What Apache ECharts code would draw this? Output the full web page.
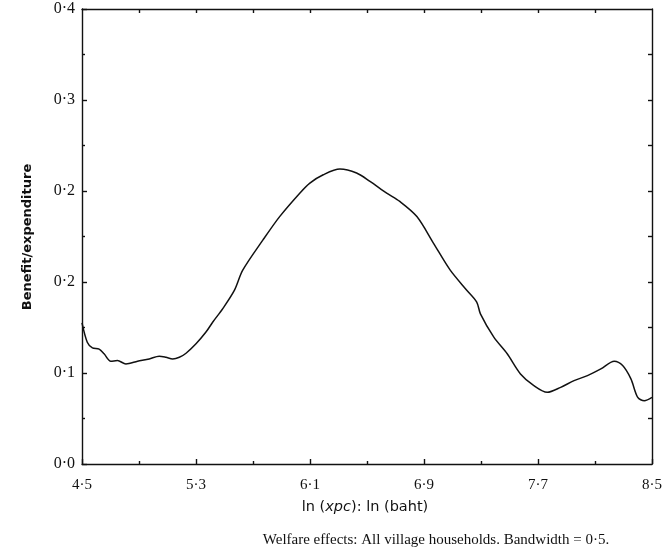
<!DOCTYPE html>
<html>
<head>
<meta charset="utf-8">
<script src="https://cdn.jsdelivr.net/npm/echarts@6/dist/echarts.min.js"></script>
<style>html,body{margin:0;padding:0;background:#fff}#c{width:669px;height:556px}</style>
</head>
<body>
<div id="c"></div>
<script>
// Data (x: ln(xpc), y: benefit/expenditure)
const xValues = [4.5, 4.537, 4.573, 4.62, 4.655, 4.702, 4.749, 4.808, 4.89, 4.972, 5.042, 5.089, 5.136, 5.183, 5.23, 5.30, 5.37, 5.418, 5.488, 5.57, 5.628, 5.77, 5.887, 6.028, 6.099, 6.193, 6.31, 6.427, 6.521, 6.638, 6.73, 6.85, 6.967, 7.084, 7.2, 7.27, 7.296, 7.39, 7.484, 7.577, 7.671, 7.765, 7.859, 7.953, 8.047, 8.141, 8.235, 8.294, 8.352, 8.4, 8.446, 8.5];
const yValues = [0.124, 0.107, 0.102, 0.101, 0.0969, 0.0903, 0.0909, 0.088, 0.0903, 0.0924, 0.0947, 0.0938, 0.0924, 0.0938, 0.0974, 0.1057, 0.116, 0.1248, 0.1366, 0.1528, 0.1704, 0.197, 0.2175, 0.2381, 0.247, 0.2543, 0.2593, 0.2558, 0.2484, 0.2381, 0.2308, 0.2175, 0.194, 0.1704, 0.1528, 0.1424, 0.132, 0.1115, 0.0969, 0.0792, 0.0689, 0.063, 0.0674, 0.0733, 0.0777, 0.0836, 0.0903, 0.0865, 0.0748, 0.0585, 0.0556, 0.0585];
const xMajorTicks = [4.5, 5.3, 6.1, 6.9, 7.7, 8.5];
const xMinorTicks = [4.9, 5.7, 6.5, 7.3, 8.1];
const xTopTicks = [4.9, 5.3, 5.7, 6.1, 6.5, 6.9, 7.3, 7.7, 8.1];
const yRightTicks = [0.04, 0.08, 0.12, 0.16, 0.2, 0.24, 0.28, 0.32, 0.36];
const yMin = 0, yMax = 0.4, yInterval = 0.08;
const xMin = 4.5, xMax = 8.5;
const yTitle = 'Benefit/expenditure';
const caption = 'Welfare effects: All village households. Bandwidth = 0·5.';

const serif = '"Liberation Serif", "DejaVu Serif", serif';
const sans = '"DejaVu Sans", "Liberation Sans", sans-serif';
const fmt = v => v.toFixed(1).replace('.', '·');

const chart = echarts.init(document.getElementById('c'));
const lineStyle = { color: '#111', width: 1.4 };
chart.setOption({
  animation: false,
  backgroundColor: '#fff',
  grid: { left: 82, right: 17, top: 9, bottom: 92 },
  xAxis: [
    {
      type: 'value', position: 'bottom', min: xMin, max: xMax,
      axisLine: { show: true, lineStyle },
      axisTick: { show: true, inside: true, length: 5, customValues: xMajorTicks, lineStyle },
      axisLabel: { customValues: xMajorTicks, formatter: fmt, margin: 14, fontFamily: serif, fontSize: 15, color: '#111' },
      splitLine: { show: false }
    },
    {
      type: 'value', position: 'bottom', min: xMin, max: xMax,
      axisLine: { show: false },
      axisTick: { show: true, inside: true, length: 3, customValues: xMinorTicks, lineStyle },
      axisLabel: { show: false },
      splitLine: { show: false }
    },
    {
      type: 'value', position: 'top', min: xMin, max: xMax,
      axisLine: { show: true, lineStyle },
      axisTick: { show: true, inside: true, length: 4, customValues: xTopTicks, lineStyle },
      axisLabel: { show: false },
      splitLine: { show: false }
    }
  ],
  yAxis: [
    {
      type: 'value', position: 'left', min: yMin, max: yMax, interval: yInterval,
      axisLine: { show: true, lineStyle },
      axisTick: { show: true, inside: true, length: 5, lineStyle },
      minorTick: { show: true, splitNumber: 2, length: 3, lineStyle },
      axisLabel: { formatter: fmt, margin: 7, fontFamily: serif, fontSize: 16, color: '#111' },
      splitLine: { show: false }
    },
    {
      type: 'value', position: 'right', min: yMin, max: yMax,
      axisLine: { show: true, lineStyle },
      axisTick: { show: true, inside: true, length: 4, customValues: yRightTicks, lineStyle },
      axisLabel: { show: false },
      splitLine: { show: false }
    }
  ],
  series: [{
    type: 'line',
    xAxisIndex: 0, yAxisIndex: 0,
    data: xValues.map((x, i) => [x, yValues[i]]),
    showSymbol: false,
    smooth: 0.3,
    lineStyle: { color: '#111', width: 1.5 }
  }],
  graphic: [
    {
      type: 'text', x: 28, y: 237, rotation: Math.PI / 2,
      style: { text: yTitle, font: 'bold 13px ' + sans, fill: '#111', align: 'center', verticalAlign: 'middle' }
    },
    {
      type: 'text', x: 365, y: 507,
      style: {
        text: '{a|ln (}{i|xpc}{a|): ln (baht)}',
        align: 'center', verticalAlign: 'middle',
        rich: {
          a: { font: '14.5px ' + sans, fill: '#111' },
          i: { font: 'italic 14.5px ' + sans, fill: '#111' }
        }
      }
    },
    {
      type: 'text', x: 436, y: 540,
      style: { text: caption, font: '15px ' + serif, fill: '#111', align: 'center', verticalAlign: 'middle' }
    }
  ]
});
</script>
</body>
</html>
